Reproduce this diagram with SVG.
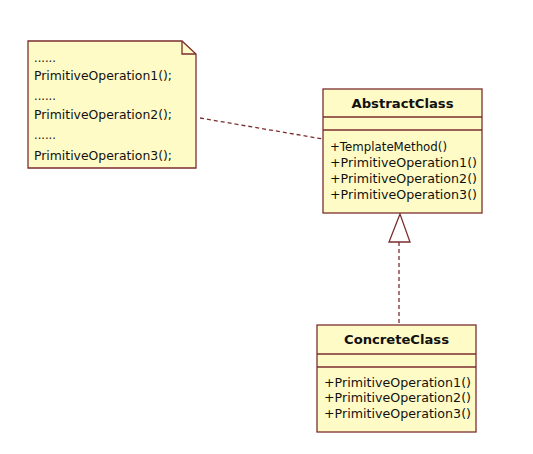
<svg xmlns="http://www.w3.org/2000/svg" width="533" height="454" viewBox="0 0 533 454">
<style>
.box{fill:#fffbc6;stroke:#7b2e2e;stroke-width:1.3}
.ln{stroke:#7b2e2e;stroke-width:1.3;fill:none}
.t{font-family:"DejaVu Sans","Liberation Sans",sans-serif;font-size:11.5px;fill:#111}
.b{font-family:"DejaVu Sans","Liberation Sans",sans-serif;font-size:12px;font-weight:bold;fill:#111}
.dash{stroke:#7b2e2e;stroke-width:1.3;stroke-dasharray:4,3;fill:none}
</style>
<rect width="533" height="454" fill="#fff"/>
<g id="note">
<path class="box" d="M28,41 H182 L196,54 V168 H28 Z"/>
<path class="ln" d="M182,41 V54 H196"/>
<text class="t" x="34" y="62">......</text>
<text class="t" x="34" y="80" textLength="138" lengthAdjust="spacingAndGlyphs">PrimitiveOperation1();</text>
<text class="t" x="34" y="100">......</text>
<text class="t" x="34" y="119" textLength="138" lengthAdjust="spacingAndGlyphs">PrimitiveOperation2();</text>
<text class="t" x="34" y="139">......</text>
<text class="t" x="34" y="160" textLength="138" lengthAdjust="spacingAndGlyphs">PrimitiveOperation3();</text>
</g>
<g id="AbstractClass">
<rect class="box" x="323" y="89" width="159" height="124"/>
<line class="ln" x1="323" y1="117" x2="482" y2="117"/>
<line class="ln" x1="323" y1="130" x2="482" y2="130"/>
<text class="b" x="402.5" y="108" text-anchor="middle" textLength="102" lengthAdjust="spacingAndGlyphs">AbstractClass</text>
<text class="t" x="330" y="151" textLength="117" lengthAdjust="spacingAndGlyphs">+TemplateMethod()</text>
<text class="t" x="330" y="167" textLength="147" lengthAdjust="spacingAndGlyphs">+PrimitiveOperation1()</text>
<text class="t" x="330" y="183" textLength="147" lengthAdjust="spacingAndGlyphs">+PrimitiveOperation2()</text>
<text class="t" x="330" y="199" textLength="147" lengthAdjust="spacingAndGlyphs">+PrimitiveOperation3()</text>
</g>
<g id="ConcreteClass">
<rect class="box" x="317" y="325" width="159" height="107"/>
<line class="ln" x1="317" y1="354" x2="476" y2="354"/>
<line class="ln" x1="317" y1="367" x2="476" y2="367"/>
<text class="b" x="396.5" y="344" text-anchor="middle" textLength="105" lengthAdjust="spacingAndGlyphs">ConcreteClass</text>
<text class="t" x="324" y="387" textLength="147" lengthAdjust="spacingAndGlyphs">+PrimitiveOperation1()</text>
<text class="t" x="324" y="402" textLength="147" lengthAdjust="spacingAndGlyphs">+PrimitiveOperation2()</text>
<text class="t" x="324" y="418" textLength="147" lengthAdjust="spacingAndGlyphs">+PrimitiveOperation3()</text>
</g>
<g id="connectors">
<line class="dash" x1="200" y1="118" x2="323" y2="139"/>
<line class="dash" x1="399" y1="242" x2="399" y2="325"/>
<path class="ln" d="M400,214 L389,242 H410 Z" fill="#fff"/>
</g>
</svg>
